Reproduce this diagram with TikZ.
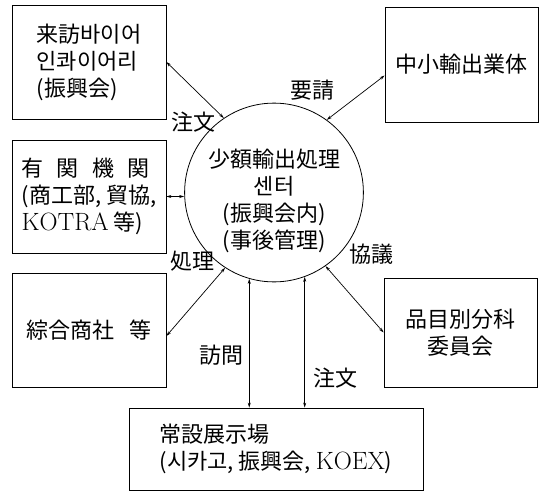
\documentclass[tikz,border=0pt]{standalone}
\usepackage{fontspec}
\newfontfamily\cjk{Noto Sans CJK JP}
\newcommand\tightlines{\lineskiplimit=-30pt\relax\lineskip=0pt\relax}
\newcommand\latin[1]{{\rmfamily\fontsize{25}{27}\selectfont #1}}
\usetikzlibrary{arrows.meta}

\begin{document}
\begin{tikzpicture}[x = 1pt, y = -1pt,
  font = \cjk\fontsize{22}{27}\selectfont\tightlines,
  box/.style = {draw, line width = 0.8pt, inner sep = 0pt},
  link/.style = {{Stealth[length=5pt,width=3pt]}-{Stealth[length=5pt,width=3pt]}, line width = 0.7pt},
  tag/.style = {inner sep = 0pt}]
\useasboundingbox (0,0) rectangle (539,493);
\pgfmathsetmacro{\boxw}{154}
\pgfmathsetmacro{\boxh}{114}
\node[box, minimum width = \boxw, minimum height = \boxh, align = left] (buyer) at (89,62) {来訪바이어\\인콰이어리\\(振興会)};
\node[box, minimum width = \boxw, minimum height = 113, align = left] (agency) at (89,196.5) {有\hspace{.6em}関\hspace{.6em}機\hspace{.6em}関\\(商工部, 貿協,\\\latin{KOTRA} 等)};
\node[box, minimum width = \boxw, minimum height = \boxh] (trader) at (89,330) {綜合商社\hspace{.7em}等};
\node[box, minimum width = 153, minimum height = 115] (maker) at (461.5,64.5) {中小輸出業体};
\node[box, minimum width = 153, minimum height = 109, align = center] (committee) at (460.5,332.5) {品目別分科\\委員会};
\node[box, minimum width = 294, minimum height = 82, align = left] (showroom) at (276,449) {常設展示場\\(시카고, 振興会, \latin{KOEX})};
\node[circle, draw, line width = 0.8pt, minimum size = 162, inner sep = 0pt, align = center] (center) at (274,192.5) {\rule{0pt}{36pt}少額輸出処理\\센터\\(振興会内)\\(事後管理)};
% connectors
\draw[link] (buyer.east) -- (center.124);
\draw[link] (agency.east) -- (agency.east -| center.west);
\draw[link] ([yshift=-6pt]trader.east) -- (center.237);
\draw[link] ([yshift=-11pt]maker.west) -- (center.54);
\draw[link] (committee.west) -- (center.305);
\draw[link] (center.254) -- (center.254 |- showroom.north);
\draw[link] (center.290) -- (center.290 |- showroom.north);
% labels
\node[tag] (order) at (193,122) {注文};
\node[tag] (request) at (312,90) {要請};
\node[tag] (handle) at (192,261) {処理};
\node[tag] (consult) at (371,254) {協議};
\node[tag] (visit) at (221,355) {訪問};
\node[tag] (reorder) at (335,378) {注文};
\end{tikzpicture}
\end{document}
